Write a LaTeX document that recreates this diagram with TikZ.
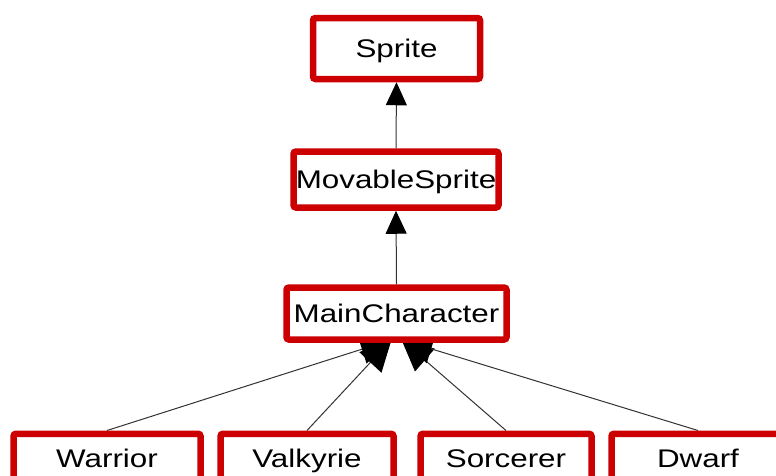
\documentclass[tikz,border=0pt]{standalone}
\usepackage{fontspec}
\newfontfamily\boxfont[FakeStretch=1.23]{Liberation Sans}
\usetikzlibrary{arrows.meta,backgrounds}
\definecolor{boxred}{RGB}{204,0,0}
\definecolor{edgegray}{RGB}{50,50,50}
\tikzset{
  classbox/.style={draw=boxred, line width=6.5pt, fill=white, rounded corners=2.5pt,
    font=\boxfont\fontsize{25.5pt}{27pt}\selectfont, text height=18.3pt, text depth=0pt,
    inner sep=0pt},
  leafbox/.style={classbox, anchor=north, text depth=40pt, inner ysep=15.2pt},
  inherit/.style={draw=edgegray, line width=1pt, -{Triangle[length=23pt,width=21pt,color=black]}},
  inheritbig/.style={draw=edgegray, line width=1pt, -{Triangle[length=31pt,width=30pt,color=black]}}
}
\begin{document}
\begin{tikzpicture}[x=1pt,y=-1pt]
\useasboundingbox (0,0) rectangle (776,475);
\clip (0,0) rectangle (776,475);
\node[classbox, minimum width=167pt, minimum height=61pt] (sprite) at (396.5,48.5) {Sprite};
\node[classbox, minimum width=205pt, minimum height=56pt] (movable) at (396,179.5) {MovableSprite};
\node[classbox, minimum width=220pt, minimum height=52pt] (main) at (396.5,313.5) {MainCharacter};
\node[leafbox, minimum width=187pt] (warrior) at (107,430.5) {Warrior};
\node[leafbox, minimum width=173pt] (valkyrie) at (307,430.5) {Valkyrie};
\node[leafbox, minimum width=171pt] (sorcerer) at (506,430.5) {Sorcerer};
\node[leafbox, minimum width=173pt] (dwarf) at (698,430.5) {Dwarf};
\coordinate (tipL) at ([xshift=-5pt,yshift=3pt]main.south);
\coordinate (tipR) at ([xshift=5pt,yshift=3pt]main.south);
\begin{pgfonlayer}{background}
\draw[inherit] (movable.north) -- (sprite.south);
\draw[inherit] (main.north) -- (movable.south);
\draw[inheritbig] (warrior.north) -- (tipL);
\draw[inheritbig] (valkyrie.north) -- (tipL);
\draw[inheritbig] (sorcerer.north) -- (tipR);
\draw[inheritbig] (dwarf.north) -- (tipR);
\end{pgfonlayer}
\end{tikzpicture}
\end{document}
